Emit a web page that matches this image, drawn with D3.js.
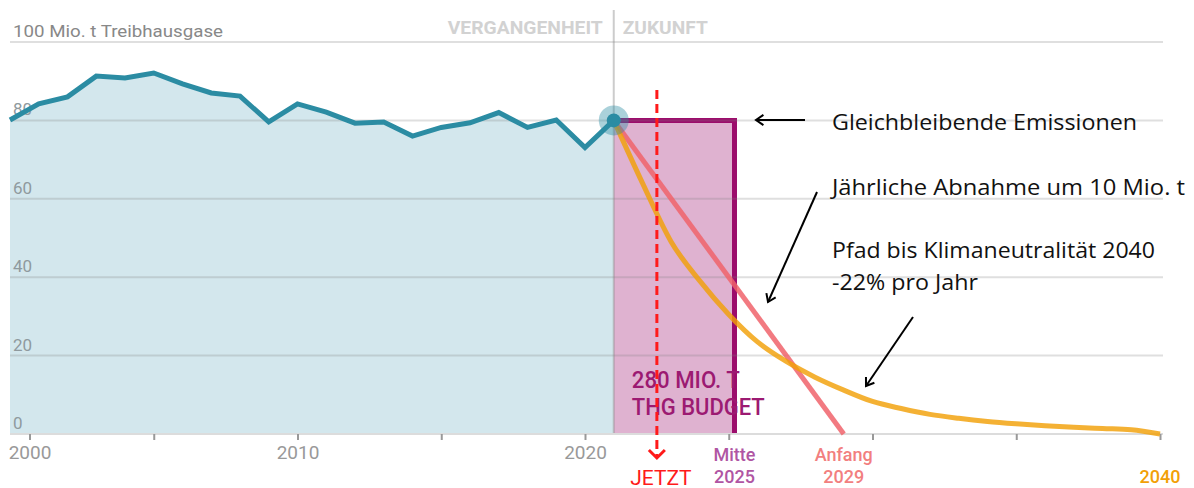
<!DOCTYPE html>
<html>
  <head>
    <script src="https://d3js.org/d3.v7.min.js" charset="utf-8"></script>
    <meta charset="UTF-8">
    <title>Treibhausgas-Budget</title>
    <style>
      body { margin: 0; background: #fff; }
      text { font-family: Roboto, "DejaVu Sans", sans-serif; }
      .note { font-family: "Open Sans", "Noto Sans", sans-serif; fill: #111; }
    </style>
  </head>
  <body>
    <svg class="chart"></svg>
    <script type="text/javascript">

     var width = 1194,
         height = 488;

     // historische Emissionen (Mio. t)
     var years = [2000, 2001, 2002, 2003, 2004, 2005, 2006, 2007, 2008, 2009, 2010,
                  2011, 2012, 2013, 2014, 2015, 2016, 2017, 2018, 2019, 2020, 2021];
     var emissions = [80.1, 84.2, 86.0, 91.3, 90.8, 92.1, 89.3, 87.0, 86.2, 79.6, 84.2,
                      82.1, 79.3, 79.6, 76.0, 78.2, 79.4, 82.0, 78.2, 80.1, 73.1, 80.0];

     // Pfad -22% pro Jahr
     var pathYears = [2021, 2022, 2023, 2024, 2025, 2026, 2027, 2028, 2029, 2030,
                      2031, 2032, 2033, 2034, 2035, 2036, 2037, 2038, 2039, 2040];
     var pathValues = [80, 64, 49, 39, 30.5, 23.5, 18.5, 14.5, 11.2, 8.3,
                       6.5, 5.0, 4.0, 3.2, 2.6, 2.1, 1.7, 1.4, 1.1, 0];

     // jaehrliche Abnahme um 10 Mio. t
     var linearYears = [2021, 2029];
     var linearValues = [80, 0];

     // Budget 280 Mio. t bei gleichbleibenden Emissionen
     var budgetStart = 2021, budgetEnd = 2025.2, budgetLevel = 80;
     var nowYear = 2022.5;

     var yTicks = [0, 20, 40, 60, 80, 100];
     var xTicks = [2000, 2005, 2010, 2015, 2020, 2025, 2030, 2035, 2040];
     var xLabels = {2000: "2000", 2010: "2010", 2020: "2020"};

     var x = d3.scaleLinear().domain([2000, 2040]).range([10, 1160]);
     var y = d3.scaleLinear().domain([0, 100]).range([434, 42]);

     var chart = d3.select(".chart")
                   .attr("width", width)
                   .attr("height", height);

     var hist = years.map(function(d, i) { return {x: d, y: emissions[i]}; });
     var path22 = pathYears.map(function(d, i) { return {x: d, y: pathValues[i]}; });
     var linear = linearYears.map(function(d, i) { return {x: d, y: linearValues[i]}; });

     // Flaeche
     chart.append("path")
          .datum(hist)
          .attr("fill", "#d3e7ed")
          .attr("d", d3.area()
                       .x(function(d) { return x(d.x); })
                       .y0(y(0))
                       .y1(function(d) { return y(d.y); }));

     // Budget
     chart.append("rect")
          .attr("x", x(budgetStart))
          .attr("y", y(budgetLevel))
          .attr("width", x(budgetEnd) - x(budgetStart))
          .attr("height", y(0) - y(budgetLevel))
          .attr("fill", "#dfb2d0");

     chart.append("path")
          .attr("d", "M" + x(budgetStart) + "," + y(budgetLevel) +
                     " L" + x(budgetEnd) + "," + y(budgetLevel) +
                     " L" + x(budgetEnd) + "," + y(0))
          .attr("fill", "none")
          .attr("stroke", "#9c0d6c")
          .attr("stroke-width", 5);

     // Gitter
     chart.append("g")
          .selectAll("line")
          .data(yTicks)
          .enter().append("line")
          .attr("x1", x(2000))
          .attr("x2", 1163)
          .attr("y1", function(d) { return y(d); })
          .attr("y2", function(d) { return y(d); })
          .attr("stroke", "#808080")
          .attr("stroke-opacity", 0.25)
          .attr("stroke-width", 2);

     chart.append("g")
          .selectAll("text")
          .data(yTicks)
          .enter().append("text")
          .attr("x", 13)
          .attr("y", function(d) { return y(d) - 5; })
          .attr("fill", function(d) { return d == 100 ? "#888" : "#8f9a9e"; })
          .attr("textLength", function(d) { return d == 100 ? 210 : null; })
          .attr("lengthAdjust", "spacingAndGlyphs")
          .style("font-size", function(d) { return d == 100 ? "17px" : "17px"; })
          .text(function(d) { return d == 100 ? "100 Mio. t Treibhausgase" : d; });

     // Trennlinie
     chart.append("line")
          .attr("x1", x(2021)).attr("x2", x(2021))
          .attr("y1", 10).attr("y2", y(0))
          .attr("stroke", "#808080")
          .attr("stroke-opacity", 0.4)
          .attr("stroke-width", 2);

     chart.append("text")
          .attr("x", x(2021) - 11)
          .attr("y", 34)
          .attr("text-anchor", "end")
          .attr("fill", "#d2d2d2")
          .attr("font-weight", "bold")
          .attr("textLength", 155)
          .attr("lengthAdjust", "spacingAndGlyphs")
          .style("font-size", "18px")
          .text("VERGANGENHEIT");

     chart.append("text")
          .attr("x", x(2021) + 9)
          .attr("y", 34)
          .attr("fill", "#d2d2d2")
          .attr("font-weight", "bold")
          .attr("textLength", 85)
          .attr("lengthAdjust", "spacingAndGlyphs")
          .style("font-size", "18px")
          .text("ZUKUNFT");

     // x-Achse
     var xAxis = chart.append("g")
                      .attr("transform", "translate(0," + y(0) + ")")
                      .call(d3.axisBottom(x)
                              .tickValues(xTicks)
                              .tickSize(6)
                              .tickFormat(function(d) { return xLabels[d] || ""; }));
     xAxis.select(".domain")
          .attr("stroke", "#dcdcdc")
          .attr("stroke-width", 2)
          .attr("d", "M" + x(2000) + ",0H1163");
     xAxis.selectAll(".tick line").attr("stroke", "#999").attr("stroke-width", 2);
     xAxis.selectAll(".tick text")
          .attr("fill", "#999")
          .attr("y", 12)
          .style("font-size", "19px")
          .style("font-family", "Roboto, sans-serif");
     xAxis.selectAll(".tick")
          .filter(function(d) { return d == 2000; })
          .attr("transform", "translate(" + (x(2000) + 20) + ",0)");

     // Abnahme um 10 Mio. t
     chart.append("path")
          .datum(linear)
          .attr("fill", "none")
          .attr("stroke", "#f0636b")
          .attr("stroke-opacity", 0.85)
          .attr("stroke-width", 5)
          .attr("d", d3.line()
                       .x(function(d) { return x(d.x); })
                       .y(function(d) { return y(d.y); }));

     // -22% Pfad
     chart.append("path")
          .datum(path22)
          .attr("fill", "none")
          .attr("stroke", "#f2a007")
          .attr("stroke-opacity", 0.82)
          .attr("stroke-width", 5)
          .attr("d", d3.line()
                       .curve(d3.curveMonotoneX)
                       .x(function(d) { return x(d.x); })
                       .y(function(d) { return y(d.y); }));

     // historische Linie
     chart.append("path")
          .datum(hist)
          .attr("fill", "none")
          .attr("stroke", "#2b8ca3")
          .attr("stroke-width", 5)
          .attr("stroke-linejoin", "miter")
          .attr("d", d3.line()
                       .x(function(d) { return x(d.x); })
                       .y(function(d) { return y(d.y); }));

     var last = hist[hist.length - 1];
     chart.append("circle")
          .attr("cx", x(last.x)).attr("cy", y(last.y))
          .attr("r", 15)
          .attr("fill", "#2b8ca3")
          .attr("fill-opacity", 0.4);
     chart.append("circle")
          .attr("cx", x(last.x)).attr("cy", y(last.y))
          .attr("r", 7)
          .attr("fill", "#2b8ca3");

     // Budget Text
     chart.append("text")
          .attr("x", x(budgetStart) + 18)
          .attr("y", 388)
          .attr("fill", "#9c1a72")
          .attr("font-weight", 500)
          .attr("textLength", 108)
          .attr("lengthAdjust", "spacingAndGlyphs")
          .style("font-size", "24px")
          .text("280 MIO. T");
     chart.append("text")
          .attr("x", x(budgetStart) + 18)
          .attr("y", 415)
          .attr("fill", "#9c1a72")
          .attr("font-weight", 500)
          .attr("textLength", 133)
          .attr("lengthAdjust", "spacingAndGlyphs")
          .style("font-size", "24px")
          .text("THG BUDGET");

     // JETZT
     chart.append("line")
          .attr("x1", x(nowYear)).attr("x2", x(nowYear))
          .attr("y1", 90).attr("y2", 456)
          .attr("stroke", "#ff1a1a")
          .attr("stroke-width", 3)
          .attr("stroke-dasharray", "9,5");
     chart.append("path")
          .attr("d", "M" + (x(nowYear) - 8) + ",450 L" + x(nowYear) + ",458 L" + (x(nowYear) + 8) + ",450")
          .attr("fill", "none")
          .attr("stroke", "#ff1a1a")
          .attr("stroke-width", 3);
     chart.append("text")
          .attr("x", x(nowYear) + 4)
          .attr("y", 485)
          .attr("text-anchor", "middle")
          .attr("fill", "#ff1a1a")
          .style("font-size", "21px")
          .text("JETZT");

     // Endpunkte
     var endLabels = [
         {year: budgetEnd, lines: ["Mitte", "2025"], color: "#b055a3"},
         {year: 2029, lines: ["Anfang", "2029"], color: "#f27f7f"},
         {year: 2040, lines: ["", "2040"], color: "#f2a007"}
     ];
     endLabels.forEach(function(e) {
         e.lines.forEach(function(t, i) {
             chart.append("text")
                  .attr("x", x(e.year))
                  .attr("y", 461 + i * 22)
                  .attr("text-anchor", "middle")
                  .attr("fill", e.color)
                  .attr("font-weight", 500)
                  .style("font-size", "18px")
                  .text(t);
         });
     });

     // Anmerkungen
     var notes = [
         {text: "Gleichbleibende Emissionen", y: 130, w: 305},
         {text: "Jährliche Abnahme um 10 Mio. t", y: 195, w: 353},
         {text: "Pfad bis Klimaneutralität 2040", y: 258, w: 323},
         {text: "-22% pro Jahr", y: 290, w: 146}
     ];
     chart.append("g")
          .selectAll("text")
          .data(notes)
          .enter().append("text")
          .attr("class", "note")
          .attr("x", 832)
          .attr("y", function(d) { return d.y; })
          .attr("textLength", function(d) { return d.w; })
          .attr("lengthAdjust", "spacingAndGlyphs")
          .style("font-size", "22px")
          .text(function(d) { return d.text; });

     var arrows = [
         [805, 120, 756, 120],
         [817, 192, 768, 302],
         [913, 317, 866, 386]
     ];
     arrows.forEach(function(a) {
         var ang = Math.atan2(a[3] - a[1], a[2] - a[0]);
         var s = 9;
         chart.append("line")
              .attr("x1", a[0]).attr("y1", a[1])
              .attr("x2", a[2]).attr("y2", a[3])
              .attr("stroke", "#000")
              .attr("stroke-width", 2);
         chart.append("path")
              .attr("d", "M" + (a[2] - s * Math.cos(ang - 0.6)) + "," + (a[3] - s * Math.sin(ang - 0.6)) +
                         " L" + a[2] + "," + a[3] +
                         " L" + (a[2] - s * Math.cos(ang + 0.6)) + "," + (a[3] - s * Math.sin(ang + 0.6)))
              .attr("fill", "none")
              .attr("stroke", "#000")
              .attr("stroke-width", 2);
     });

    </script>
  </body>
</html>
